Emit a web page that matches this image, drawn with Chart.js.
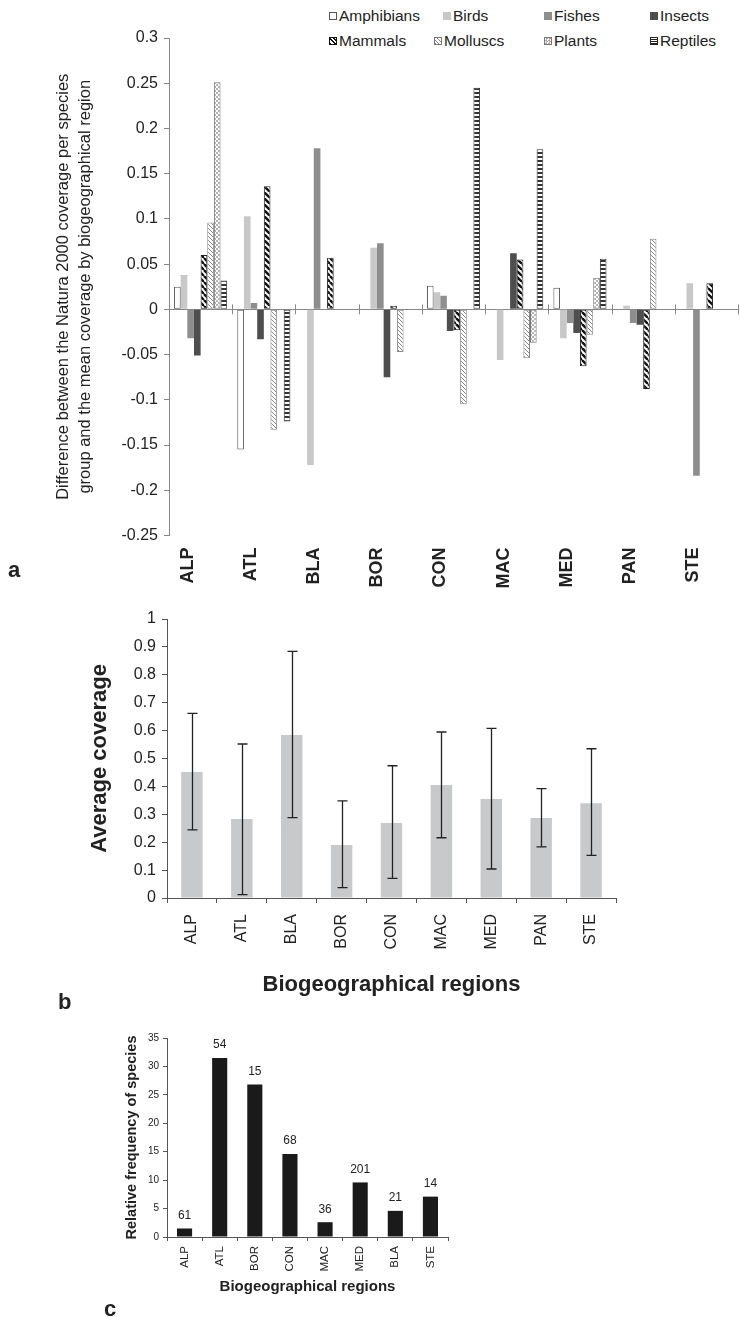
<!DOCTYPE html>
<html>
<head>
<meta charset="utf-8">
<script src="https://cdn.jsdelivr.net/npm/chart.js@4/dist/chart.umd.min.js"></script>
<style>
  html, body { margin: 0; padding: 0; background: #fff; }
  #wrap { position: relative; width: 740px; height: 1317px; overflow: hidden; font-family: 'Liberation Sans', Arial, sans-serif; color: #222; }
  canvas { position: absolute; left: 0; }
  .leg { position: absolute; font-size: 15.5px; line-height: 18px; white-space: nowrap; }
  .sw { display: inline-block; width: 8px; height: 8px; margin-right: 2px; vertical-align: 1px; box-sizing: border-box; }
  .panel { position: absolute; font-size: 22px; font-weight: bold; line-height: 22px; }
</style>
</head>
<body>
<div id="wrap">
  <div id="legendA"></div>
  <canvas id="chartA" width="740" height="600" style="top:0"></canvas>
  <canvas id="chartB" width="740" height="410" style="top:600px"></canvas>
  <canvas id="chartC" width="740" height="307" style="top:1010px"></canvas>
  <div class="panel" style="left:8px;top:559px">a</div>
  <div class="panel" style="left:58px;top:991px">b</div>
  <div class="panel" style="left:104px;top:1298px">c</div>
</div>
<script>
// panel a: difference per species group by region
const regions = ['ALP', 'ATL', 'BLA', 'BOR', 'CON', 'MAC', 'MED', 'PAN', 'STE'];
const groups = ['Amphibians', 'Birds', 'Fishes', 'Insects', 'Mammals', 'Molluscs', 'Plants', 'Reptiles'];
const amphibians = [0.025, -0.155, null, null, 0.026, null, 0.024, null, null];
const birds = [0.038, 0.103, -0.172, 0.068, 0.019, -0.056, -0.032, 0.004, 0.029];
const fishes = [-0.032, 0.007, 0.178, 0.073, 0.015, null, -0.015, -0.015, -0.184];
const insects = [-0.051, -0.033, null, -0.075, -0.024, 0.062, -0.026, -0.017, null];
const mammals = [0.060, 0.136, 0.057, 0.004, -0.023, 0.055, -0.063, -0.088, 0.029];
const molluscs = [0.096, -0.133, null, -0.047, -0.105, -0.054, -0.028, 0.078, null];
const plants = [0.251, null, null, null, null, -0.037, 0.035, null, null];
const reptiles = [0.032, -0.124, null, null, 0.245, 0.177, 0.056, null, null];
const yTicksA = { min: -0.25, max: 0.3, step: 0.05 };

// panel b: average coverage with error bars
const coverage = [0.452, 0.283, 0.584, 0.19, 0.269, 0.405, 0.355, 0.287, 0.34];
const errLow = [0.244, 0.012, 0.288, 0.037, 0.07, 0.216, 0.104, 0.183, 0.153];
const errHigh = [0.662, 0.552, 0.884, 0.348, 0.474, 0.595, 0.608, 0.392, 0.535];

// panel c: relative frequency of species
const freqRegions = ['ALP', 'ATL', 'BOR', 'CON', 'MAC', 'MED', 'BLA', 'STE'];
const freq = [1.5, 31.5, 26.8, 14.6, 2.6, 9.6, 4.6, 7.1];
const speciesCounts = [61, 54, 15, 68, 36, 201, 21, 14];

Chart.defaults.font.family = "'Liberation Sans', Arial, sans-serif";
Chart.defaults.color = '#222';

function makePattern(kind) {
    const c = document.createElement('canvas');
    const g = c.getContext('2d');
    if (kind === 'mammals' || kind === 'molluscs') {
        const s = kind === 'mammals' ? 6 : 4;
        c.width = c.height = s;
        g.fillStyle = '#fff';
        g.fillRect(0, 0, s, s);
        g.strokeStyle = kind === 'mammals' ? '#111' : '#888';
        g.lineWidth = kind === 'mammals' ? 2.4 : 1;
        for (const o of [-s, 0, s]) {
            g.beginPath();
            g.moveTo(o, 0);
            g.lineTo(o + s, s);
            g.stroke();
        }
    } else if (kind === 'plants') {
        c.width = c.height = 4;
        g.fillStyle = '#fff';
        g.fillRect(0, 0, 4, 4);
        g.fillStyle = '#b4b4b4';
        g.fillRect(0, 0, 2, 2);
        g.fillRect(2, 2, 2, 2);
    } else {
        c.width = 4; c.height = 4;
        g.fillStyle = '#fff';
        g.fillRect(0, 0, 4, 4);
        g.fillStyle = '#333';
        g.fillRect(0, 0, 4, 2);
    }
    return g.createPattern(c, 'repeat');
}

const seriesA = [amphibians, birds, fishes, insects, mammals, molluscs, plants, reptiles];
const fillsA = ['#fff', '#c8c8c8', '#8e8e8e', '#4e4e4e', makePattern('mammals'), makePattern('molluscs'), makePattern('plants'), makePattern('reptiles')];
const bordersA = ['#555', '#c8c8c8', '#8e8e8e', '#4e4e4e', '#222', '#888', '#777', '#333'];
const borderWA = [1, 0, 0, 0, 1, 1, 1, 1];

// legend for panel a (CSS swatches)
const swatchCss = [
    'background:#fff;border:1px solid #555',
    'background:#c8c8c8',
    'background:#8e8e8e',
    'background:#4e4e4e',
    'background:repeating-linear-gradient(45deg,#111 0 1.4px,#fff 1.4px 3px);border:1px solid #111',
    'background:repeating-linear-gradient(45deg,#888 0 0.8px,#fff 0.8px 2.6px);border:1px solid #777',
    'background:repeating-conic-gradient(#aaa 0 25%,#fff 0 50%) 0 0/3px 3px;border:1px solid #777',
    'background:repeating-linear-gradient(0deg,#222 0 1px,#fff 1px 2.2px);border:1px solid #222'
];
const legendX = [[329, 443, 544, 650], [329, 434, 544, 650]];
const legendY = [7, 32];
const legendA = document.getElementById('legendA');
groups.forEach((g, i) => {
    const row = Math.floor(i / 4), col = i % 4;
    const d = document.createElement('div');
    d.className = 'leg';
    d.style.left = legendX[row][col] + 'px';
    d.style.top = legendY[row] + 'px';
    d.innerHTML = `<span class="sw" style="${swatchCss[i]}"></span>${g}`;
    legendA.appendChild(d);
});

const zeroTicks = {
    id: 'zeroTicks',
    afterDatasetsDraw(chart) {
        const { ctx, scales: { x, y } } = chart;
        const y0 = y.getPixelForValue(0);
        ctx.save();
        ctx.strokeStyle = '#888';
        ctx.lineWidth = 1;
        for (let i = 0; i <= regions.length; i++) {
            const px = Math.round(x.getPixelForValue(i - 0.5)) + 0.5;
            ctx.beginPath();
            ctx.moveTo(px, y0 - 5);
            ctx.lineTo(px, y0 + 5);
            ctx.stroke();
        }
        ctx.restore();
    }
};

new Chart(document.getElementById('chartA'), {
    type: 'bar',
    data: {
        labels: regions,
        datasets: groups.map((g, i) => ({
            label: g,
            data: seriesA[i],
            backgroundColor: fillsA[i],
            borderColor: bordersA[i],
            borderWidth: borderWA[i],
            borderSkipped: false,
            categoryPercentage: 0.84,
            barPercentage: 1
        }))
    },
    options: {
        responsive: false,
        animation: false,
        layout: { padding: { top: 38, right: 0, left: 0, bottom: 0 } },
        plugins: { legend: { display: false }, tooltip: { enabled: false } },
        scales: {
            x: {
                grid: { display: false, drawTicks: false },
                border: { display: false },
                ticks: { minRotation: 90, maxRotation: 90, padding: 12, labelOffset: -13, font: { size: 18, weight: 'bold' } },
                afterFit: s => { s.height = 64.5; }
            },
            y: {
                min: yTicksA.min,
                max: yTicksA.max,
                ticks: { stepSize: yTicksA.step, padding: 6, font: { size: 16 }, callback: v => String(+v.toFixed(2)) },
                grid: {
                    color: c => (c.tick && Math.abs(c.tick.value) < 1e-9 ? '#888' : 'rgba(0,0,0,0)'),
                    tickColor: '#888',
                    tickLength: 5
                },
                border: { color: '#888' },
                title: {
                    display: true,
                    text: ['Difference between the Natura 2000 coverage per species', 'group and the mean coverage by biogeographical region'],
                    font: { size: 16.5, lineHeight: 1.32 },
                    padding: { top: 53, bottom: 0 }
                },
                afterFit: s => { s.width = 169; }
            }
        }
    },
    plugins: [zeroTicks]
});

const errorBars = {
    id: 'errorBars',
    afterDatasetsDraw(chart) {
        const { ctx, scales: { y } } = chart;
        const meta = chart.getDatasetMeta(0);
        ctx.save();
        ctx.strokeStyle = '#222';
        ctx.lineWidth = 1.3;
        meta.data.forEach((bar, i) => {
            const x = Math.round(bar.x) + 0.5;
            const yl = y.getPixelForValue(errLow[i]);
            const yh = y.getPixelForValue(errHigh[i]);
            ctx.beginPath();
            ctx.moveTo(x, yl); ctx.lineTo(x, yh);
            ctx.moveTo(x - 5, yl); ctx.lineTo(x + 5, yl);
            ctx.moveTo(x - 5, yh); ctx.lineTo(x + 5, yh);
            ctx.stroke();
        });
        ctx.restore();
    }
};

new Chart(document.getElementById('chartB'), {
    type: 'bar',
    data: {
        labels: regions,
        datasets: [{ data: coverage, backgroundColor: '#c8c9cb', categoryPercentage: 1, barPercentage: 0.43 }]
    },
    options: {
        responsive: false,
        animation: false,
        layout: { padding: { top: 19, right: 124, left: 0, bottom: 0 } },
        plugins: { legend: { display: false }, tooltip: { enabled: false } },
        scales: {
            x: {
                grid: { drawOnChartArea: false, tickLength: 5, color: '#555' },
                border: { color: '#555' },
                ticks: { minRotation: 90, maxRotation: 90, padding: 11, font: { size: 16 } },
                title: { display: true, text: 'Biogeographical regions', font: { size: 22, weight: 'bold' }, padding: { top: 0, bottom: 12 } },
                afterFit: s => { s.height = 112; }
            },
            y: {
                min: 0,
                max: 1,
                ticks: { stepSize: 0.1, padding: 6, font: { size: 16 }, callback: v => String(+v.toFixed(1)) },
                grid: { drawOnChartArea: false, tickLength: 5, color: '#555' },
                border: { color: '#555' },
                title: { display: true, text: 'Average coverage', font: { size: 22, weight: 'bold' }, padding: { top: 87, bottom: 0 } },
                afterFit: s => { s.width = 167; }
            }
        }
    },
    plugins: [errorBars]
});

const countLabels = {
    id: 'countLabels',
    afterDatasetsDraw(chart) {
        const { ctx } = chart;
        const meta = chart.getDatasetMeta(0);
        ctx.save();
        ctx.fillStyle = '#222';
        ctx.font = "12px 'Liberation Sans', Arial, sans-serif";
        ctx.textAlign = 'center';
        ctx.textBaseline = 'middle';
        meta.data.forEach((bar, i) => {
            ctx.fillText(String(speciesCounts[i]), bar.x, bar.y - 13);
        });
        ctx.restore();
    }
};

new Chart(document.getElementById('chartC'), {
    type: 'bar',
    data: {
        labels: freqRegions,
        datasets: [{ data: freq, backgroundColor: '#1a1a1a', borderColor: '#000', borderWidth: 0, categoryPercentage: 1, barPercentage: 0.43 }]
    },
    options: {
        responsive: false,
        animation: false,
        layout: { padding: { top: 28, right: 292, left: 0, bottom: 0 } },
        plugins: { legend: { display: false }, tooltip: { enabled: false } },
        scales: {
            x: {
                grid: { drawOnChartArea: false, tickLength: 4, color: '#555' },
                border: { color: '#555' },
                ticks: { minRotation: 90, maxRotation: 90, padding: 5, font: { size: 11.5 } },
                title: { display: true, text: 'Biogeographical regions', font: { size: 15, weight: 'bold' }, padding: { top: 0, bottom: 21 } },
                afterFit: s => { s.height = 80; }
            },
            y: {
                min: 0,
                max: 35,
                ticks: { stepSize: 5, padding: 4, font: { size: 10 } },
                grid: { drawOnChartArea: false, tickLength: 4, color: '#555' },
                border: { color: '#555' },
                title: { display: true, text: 'Relative frequency of species', font: { size: 14.5, weight: 'bold' }, padding: { top: 123, bottom: 0 } },
                afterFit: s => { s.width = 167; }
            }
        }
    },
    plugins: [countLabels]
});
</script>
</body>
</html>
